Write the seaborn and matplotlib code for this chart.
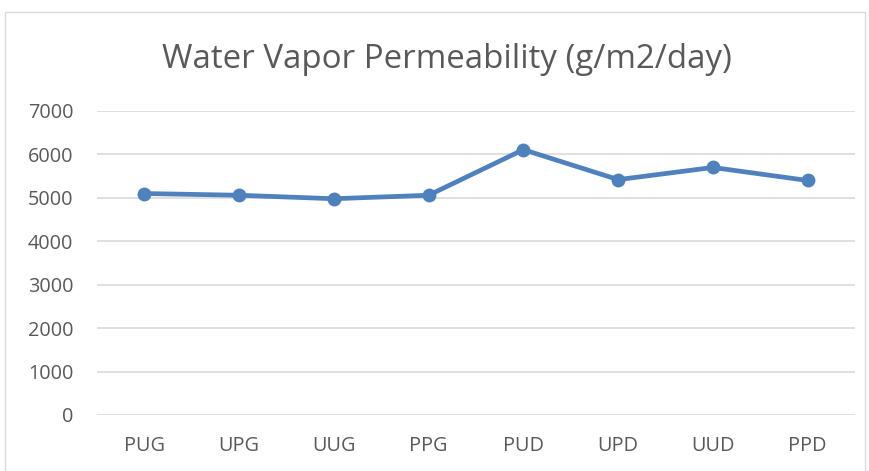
import matplotlib
matplotlib.use("Agg")
import matplotlib.pyplot as plt
import seaborn as sns
import pandas as pd
from matplotlib.patches import Rectangle

categories = ["PUG", "UPG", "UUG", "PPG", "PUD", "UPD", "UUD", "PPD"]
values = [5100, 5060, 4980, 5060, 6110, 5420, 5700, 5400]
yticks = [0, 1000, 2000, 3000, 4000, 5000, 6000, 7000]
title = "Water Vapor Permeability (g/m2/day)"

df = pd.DataFrame({"cat": categories, "val": values})

sns.set_theme(style="white")
plt.rcParams['font.family'] = ['Open Sans', 'DejaVu Sans']

fig = plt.figure(figsize=(8.7, 4.71), dpi=100)
ax = fig.add_axes([97/870, 1-415/471, (855-97)/870, (415-111)/471])

line_color = "#4F81BD"
sns.lineplot(data=df, x="cat", y="val", ax=ax, color=line_color, linewidth=3.4,
             marker="o", markersize=10, markeredgewidth=0, sort=False)

ax.set_xlim(-0.5, len(categories) - 0.5)
ax.set_ylim(0, 7000)
ax.set_yticks(yticks)
ax.set_yticklabels([str(t) for t in yticks])
ax.grid(axis="y", color="#D9D9D9", linewidth=1.2)
ax.grid(axis="x", visible=False)
ax.set_axisbelow(True)
for s in ax.spines.values():
    s.set_visible(False)
ax.tick_params(axis="both", length=0, labelsize=14.3, labelcolor="#595959")
ax.tick_params(axis="x", pad=15)
ax.tick_params(axis="y", pad=17)
ax.set_xlabel("")
ax.set_ylabel("")

fig.text(447/870, 1-59/471, title, ha="center", va="center", fontsize=23.8, color="#595959")

fig.patches.append(Rectangle((5/870, -0.05), (865-5)/870, 1.05 - 12/471,
                             transform=fig.transFigure, fill=False,
                             edgecolor="#D9D9D9", linewidth=1.0))

fig.savefig("out.png", dpi=100)
